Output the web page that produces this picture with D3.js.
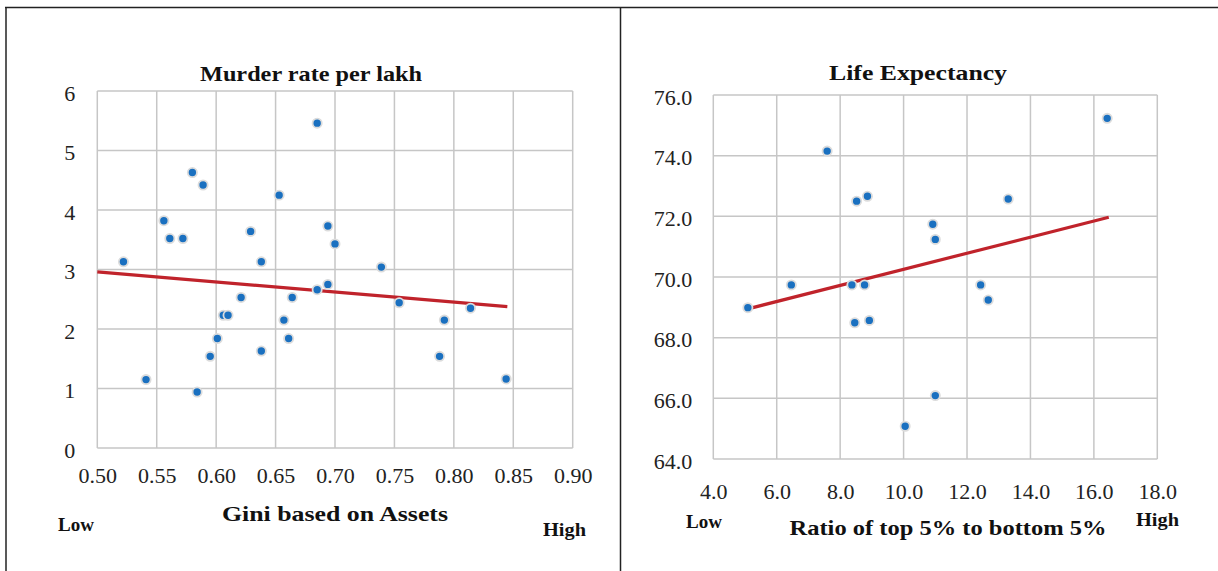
<!DOCTYPE html>
<html>
<head>
<meta charset="utf-8">
<script src="https://cdn.jsdelivr.net/npm/d3@7"></script>
<style>
	body { margin: 0; background: #fff; }
	svg { display: block; }
</style>
</head>
<body>
<svg id="svg" width="1218" height="571"></svg>
<script>
"use strict";

// ---- data ----

// left chart: gini (assets) vs murder rate per lakh
const giniX = [0.685, 0.580, 0.589, 0.653, 0.556, 0.561, 0.572, 0.629, 0.694, 0.700,
	0.522, 0.638, 0.739, 0.621, 0.606, 0.610, 0.664, 0.685, 0.694, 0.657,
	0.661, 0.601, 0.595, 0.638, 0.541, 0.584, 0.754, 0.792, 0.814, 0.788, 0.844];
const murderY = [5.46, 4.63, 4.42, 4.25, 3.82, 3.52, 3.52, 3.64, 3.73, 3.43,
	3.13, 3.13, 3.04, 2.53, 2.23, 2.23, 2.53, 2.66, 2.75, 2.15,
	1.84, 1.84, 1.54, 1.63, 1.15, 0.94, 2.44, 2.15, 2.35, 1.54, 1.16];
const murderTrend = [[0.5, 2.96], [0.845, 2.375]];
const giniTicks = [0.5, 0.55, 0.6, 0.65, 0.7, 0.75, 0.8, 0.85, 0.9];
const murderTicks = [0, 1, 2, 3, 4, 5, 6];

// right chart: ratio top 5% / bottom 5% vs life expectancy
const ratioX = [7.59, 8.52, 8.86, 16.42, 13.30, 10.92, 11.00, 5.09, 6.46, 8.37,
	8.77, 8.46, 8.92, 10.05, 12.43, 12.67, 11.00];
const lifeY = [74.15, 72.50, 72.66, 75.23, 72.57, 71.74, 71.24, 68.99, 69.74, 69.74,
	69.74, 68.49, 68.57, 65.08, 69.74, 69.24, 66.09];
const lifeTrend = [[5.09, 68.95], [16.47, 71.97]];
const ratioTicks = [4, 6, 8, 10, 12, 14, 16, 18];
const lifeTicks = [64, 66, 68, 70, 72, 74, 76];

const serif = '"Liberation Serif", "Times New Roman", serif';
const svg = d3.select("#svg");

// frame lines
svg.append("line").attr("x1", 5).attr("x2", 1218).attr("y1", 7.5).attr("y2", 7.5)
	.style("stroke", "#222").style("stroke-width", "1.5px");
svg.append("line").attr("x1", 6).attr("x2", 6).attr("y1", 7).attr("y2", 571)
	.style("stroke", "#222").style("stroke-width", "1.5px");
svg.append("line").attr("x1", 620.5).attr("x2", 620.5).attr("y1", 7).attr("y2", 571)
	.style("stroke", "#222").style("stroke-width", "1.5px");

function label(g, txt, x, y, size, len, anchor) {
	const t = g.append("text").text(txt)
		.attr("x", x).attr("y", y)
		.attr("text-anchor", anchor)
		.style("font-family", serif).style("font-weight", "bold")
		.style("font-size", size + "px").style("fill", "#111");
	if (len) t.attr("textLength", len).attr("lengthAdjust", "spacingAndGlyphs");
	return t;
}

function scatter(p) {
	const g = svg.append("g").attr("id", p.id);

	const x = d3.scaleLinear().domain(p.xDomain).range([p.left, p.right]);
	const y = d3.scaleLinear().domain(p.yDomain).range([p.bottom, p.top]);

	// gridlines
	g.append("g").selectAll("line").data(p.xTicks).enter().append("line")
		.attr("x1", (d) => x(d)).attr("x2", (d) => x(d))
		.attr("y1", p.top).attr("y2", p.bottom)
		.style("stroke", "#c6c6c6").style("stroke-width", "1.5px");
	g.append("g").selectAll("line").data(p.yTicks).enter().append("line")
		.attr("x1", p.left).attr("x2", p.right)
		.attr("y1", (d) => y(d)).attr("y2", (d) => y(d))
		.style("stroke", "#c6c6c6").style("stroke-width", "1.5px");

	// axes (labels only)
	const xAxis = g.append("g")
		.attr("transform", `translate(0,${p.bottom})`)
		.call(d3.axisBottom(x).tickValues(p.xTicks).tickFormat(p.xFormat).tickSize(0).tickPadding(p.xPad));
	const yAxis = g.append("g")
		.attr("transform", `translate(${p.left},0)`)
		.call(d3.axisLeft(y).tickValues(p.yTicks).tickFormat(p.yFormat).tickSize(0).tickPadding(p.yPad));
	[xAxis, yAxis].forEach((a) => {
		a.attr("font-family", null).attr("font-size", null);
		a.select(".domain").remove();
		a.selectAll("text").style("font-size", p.tickSize + "px").style("font-family", serif).style("fill", "#222");
	});
	yAxis.selectAll("text").attr("dy", "0.42em");

	// trendline
	g.append("path")
		.datum(p.trend)
		.attr("d", d3.line().x((d) => x(d[0])).y((d) => y(d[1])))
		.style("fill", "none")
		.style("stroke", "#c0232b")
		.style("stroke-width", "3.2px");

	// points
	g.append("g").selectAll("circle").data(p.xs).enter().append("circle")
		.attr("cx", (d) => x(d))
		.attr("cy", (d, i) => y(p.ys[i]))
		.attr("r", 4.6)
		.style("fill", "#1a70c0")
		.style("stroke", "#dcdcdc")
		.style("stroke-width", "1.8px");

	// title + labels
	label(g, p.title, p.titleX, p.titleY, 22, p.titleLen, "middle");
	label(g, p.xTitle, p.xTitleX, p.xTitleY, 22, p.xTitleLen, "middle");
	label(g, "Low", p.lowX, p.lowY, 18, 36, "start");
	label(g, "High", p.highX, p.highY, 18, 43, "start");
}

scatter({
	id: "murder",
	xs: giniX, ys: murderY, trend: murderTrend,
	xDomain: [0.5, 0.9], yDomain: [0, 6],
	xTicks: giniTicks, yTicks: murderTicks,
	xFormat: d3.format(".2f"), yFormat: d3.format("d"),
	left: 97.3, right: 572.7, top: 91, bottom: 448,
	xPad: 19, yPad: 22, tickSize: 22,
	title: "Murder rate per lakh", titleX: 311, titleY: 81, titleLen: 222,
	xTitle: "Gini based on Assets", xTitleX: 335, xTitleY: 521, xTitleLen: 226,
	lowX: 58, lowY: 531, highX: 543, highY: 536
});

scatter({
	id: "life",
	xs: ratioX, ys: lifeY, trend: lifeTrend,
	xDomain: [4, 18], yDomain: [64, 76],
	xTicks: ratioTicks, yTicks: lifeTicks,
	xFormat: d3.format(".1f"), yFormat: d3.format(".1f"),
	left: 713.3, right: 1157.3, top: 95, bottom: 459,
	xPad: 24, yPad: 21, tickSize: 22,
	title: "Life Expectancy", titleX: 918, titleY: 80, titleLen: 178,
	xTitle: "Ratio of top 5% to bottom 5%", xTitleX: 948, xTitleY: 535, xTitleLen: 317,
	lowX: 686, lowY: 528, highX: 1136, highY: 526
});
</script>
</body>
</html>
